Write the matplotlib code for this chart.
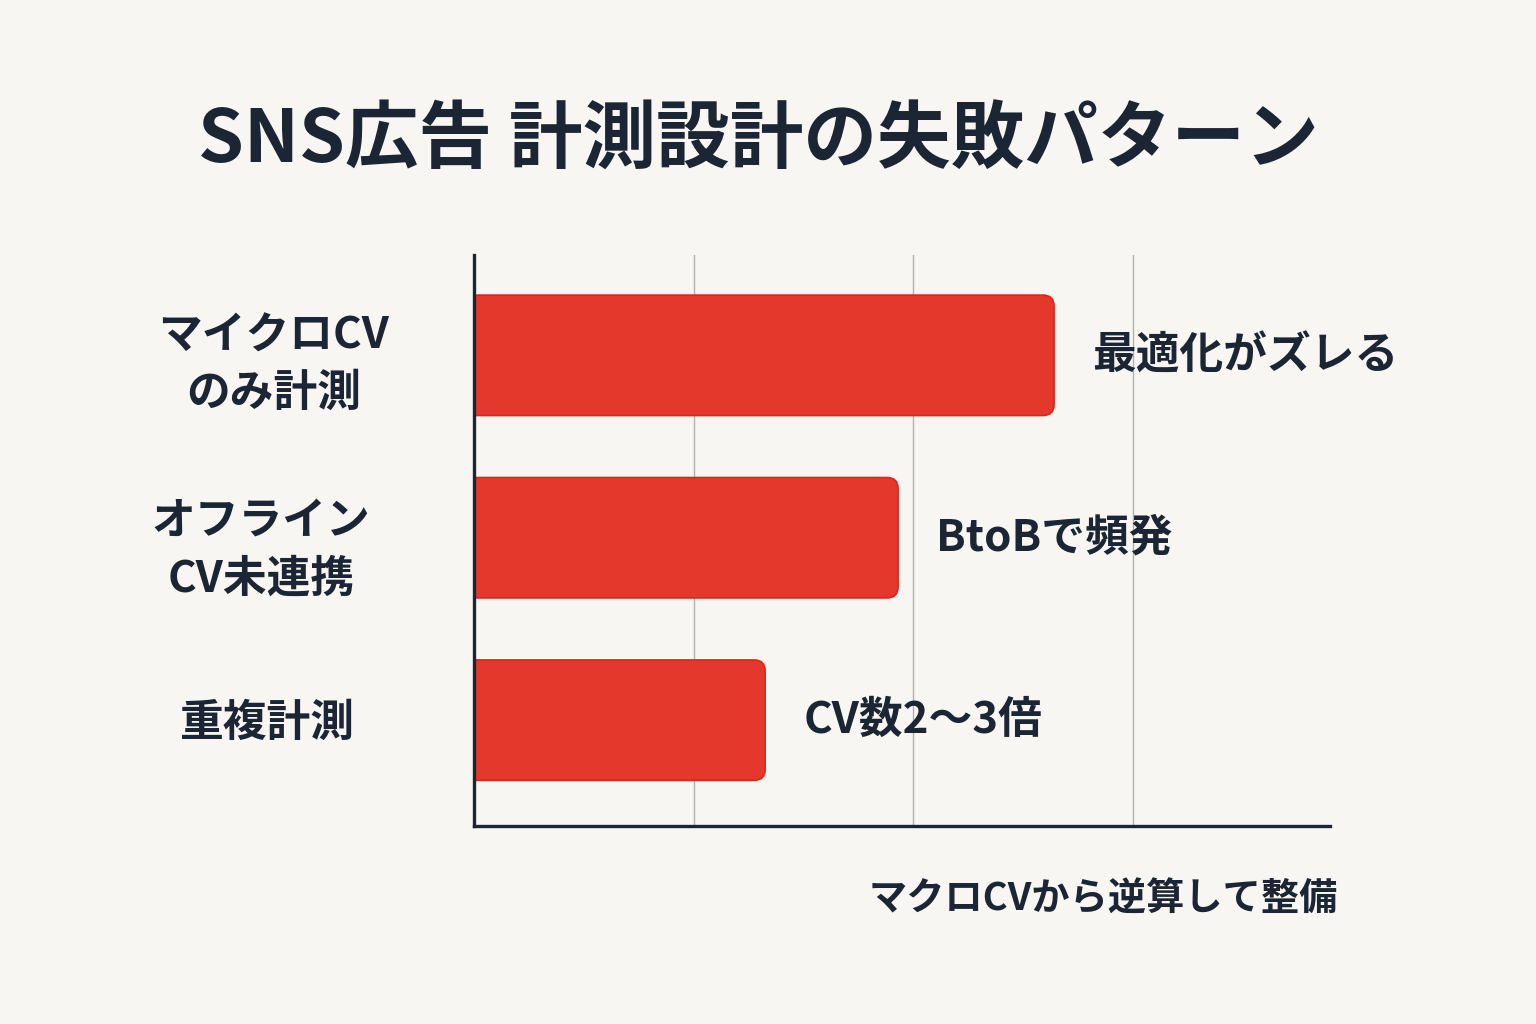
import matplotlib

matplotlib.use("Agg")
import matplotlib.pyplot as plt
from matplotlib.patches import FancyBboxPatch
from matplotlib import transforms

plt.rcParams["font.family"] = ["Noto Sans CJK JP", "DejaVu Sans"]

TITLE = "SNS広告 計測設計の失敗パターン"
categories = ["マイクロCV\nのみ計測", "オフライン\nCV未連携", "重複計測"]
values = [2.64, 1.93, 1.325]
notes = ["最適化がズレる", "BtoBで頻発", "CV数2〜3倍"]
footer = "マクロCVから逆算して整備"

BG = "#F7F6F3"
INK = "#1B2533"
BAR = "#E3382B"
BAR_EDGE = "#E0241A"

fig = plt.figure(figsize=(15.36, 10.24), dpi=100, facecolor=BG)
ax = fig.add_axes([0.3086, 0.1934, 0.5573, 0.5576], facecolor=BG)

xmax = 3.896
bar_h = 0.66
ypos = list(range(len(values)))

for y, v in zip(ypos, values):
    patch = FancyBboxPatch((-0.2, y - bar_h / 2), v + 0.2, bar_h,
                           boxstyle="round,pad=0,rounding_size=0.05",
                           mutation_aspect=1.2,
                           facecolor=BAR, edgecolor=BAR_EDGE, linewidth=1.2,
                           zorder=3)
    ax.add_patch(patch)

# value notes to the right of each bar
offset = transforms.offset_copy(ax.transData, fig=fig, x=38, y=0, units="dots")
for y, v, note in zip(ypos, values, notes):
    ax.text(v, y, note, transform=offset, ha="left", va="center",
            fontsize=31.5, fontweight="bold", color=INK)

# category labels, centered in the left margin
lab_tr = transforms.blended_transform_factory(fig.transFigure, ax.transData)
lab_x = [0.178, 0.170, 0.174]
lab_dy = [0.05, 0.065, 0.012]
for y, x, dy, lab in zip(ypos, lab_x, lab_dy, categories):
    ax.text(x, y + dy, lab, transform=lab_tr, ha="center", va="center",
            multialignment="center", fontsize=31.5, fontweight="bold",
            color=INK, linespacing=1.38)

ax.set_xlim(0, xmax)
ax.set_ylim(2.58, -0.55)
ax.set_xticks([1, 2, 3])
ax.set_yticks([])
ax.tick_params(axis="x", length=0, labelbottom=False)
ax.grid(axis="x", color="#AEB2B5", linewidth=1.0, zorder=0)
ax.set_axisbelow(True)

for side in ("top", "right"):
    ax.spines[side].set_visible(False)
for side in ("left", "bottom"):
    ax.spines[side].set_color(INK)
    ax.spines[side].set_linewidth(2.4)
    ax.spines[side].set_zorder(4)

fig.text(0.494, 0.862, TITLE, ha="center", va="center",
         fontsize=53, fontweight="bold", color=INK)
fig.text(0.871, 0.122, footer, ha="right", va="center",
         fontsize=27.5, fontweight="bold", color=INK)

fig.savefig("out.png", dpi=100, facecolor=BG)
